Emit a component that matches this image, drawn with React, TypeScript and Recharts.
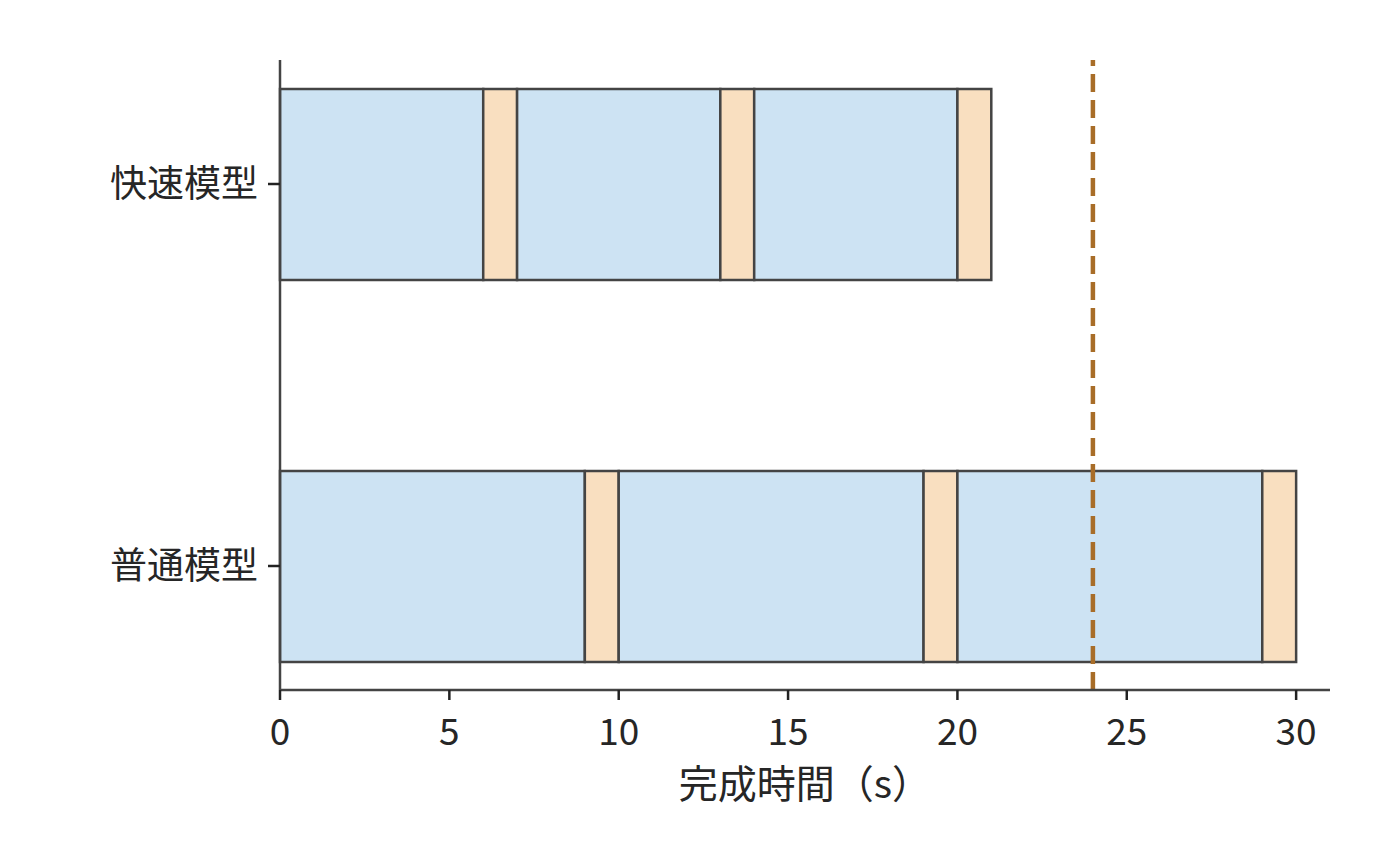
import { BarChart, Bar, XAxis, YAxis, ReferenceLine } from "recharts";

// 每個模型的工作段與暫停段（秒）
const models = ["快速模型", "普通模型"];
const fastSegments = [6, 1, 6, 1, 6, 1];
const normalSegments = [9, 1, 9, 1, 9, 1];
const xTicks = [0, 5, 10, 15, 20, 25, 30];
const deadline = 24;

const segKeys = ["s0", "s1", "s2", "s3", "s4", "s5"];

const rows = [fastSegments, normalSegments].map((segs, i) => {
  const row: Record<string, string | number> = { model: models[i] };
  segs.forEach((v, j) => (row[segKeys[j]] = v));
  return row;
});

const FONT = '"Noto Sans CJK JP", "Noto Sans", sans-serif';
const TEXT = "#262626";
const EDGE = "#444444";

export default function App() {
  return (
    <div style={{ position: "absolute", left: 0, top: 0, fontFamily: FONT }}>
      <BarChart
        width={1400}
        height={864}
        data={rows}
        layout="vertical"
        margin={{ top: 60, right: 70, bottom: 0, left: 0 }}
      >
        <XAxis
          type="number"
          domain={[0, 31]}
          ticks={xTicks}
          height={174}
          tickSize={10}
          tickMargin={19}
          axisLine={{ stroke: EDGE, strokeWidth: 2.5 }}
          tickLine={{ stroke: "#222", strokeWidth: 2.5 }}
          tick={{ fontSize: 37, fill: TEXT, fontFamily: FONT }}
          label={{
            value: "完成時間（s）",
            position: "insideBottom",
            offset: 66,
            fontSize: 39,
            fill: TEXT,
            fontFamily: FONT,
          }}
        />
        <YAxis
          type="category"
          dataKey="model"
          width={280}
          padding={{ top: -67, bottom: -67 }}
          tickSize={12}
          tickMargin={10}
          axisLine={{ stroke: EDGE, strokeWidth: 2.5 }}
          tickLine={{ stroke: "#222", strokeWidth: 2.5 }}
          tick={{ fontSize: 37, fill: TEXT, fontFamily: FONT }}
        />
        {segKeys.map((k, j) => (
          <Bar
            key={k}
            dataKey={k}
            stackId="run"
            barSize={191}
            fill={j % 2 === 0 ? "#cde3f3" : "#f9dfc0"}
            stroke={EDGE}
            strokeWidth={2.5}
            isAnimationActive={false}
          />
        ))}
        <ReferenceLine
          x={deadline}
          stroke="#a86d28"
          strokeWidth={4.5}
          strokeDasharray="18 8"
        />
      </BarChart>
    </div>
  );
}
